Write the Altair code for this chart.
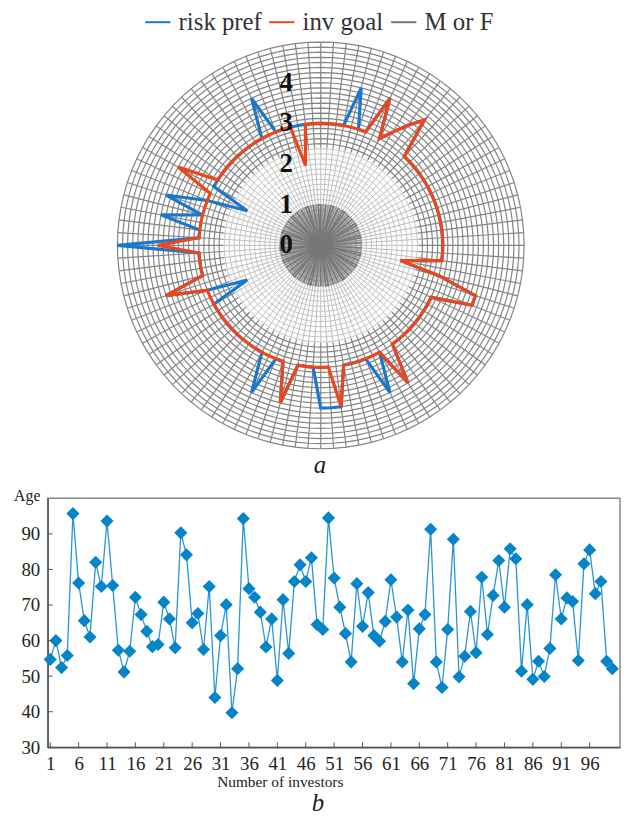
import altair as alt
import pandas as pd

FONT = "Liberation Serif"

# ---------------- data: radar (panel a) ----------------
series_names = ["risk pref", "inv goal", "M or F"]
series_colors = ["#1a78cc", "#ec461a", "#777777"]

risk_pref = [3, 3, 3, 3, 4, 3, 3, 4, 3, 3.3,
             3.65, 4, 3, 3, 3, 3, 3, 3, 3, 3,
             3, 3, 3, 3, 3, 3, 3, 3, 2, 3,
             4, 4, 3, 3, 3, 3, 3, 3, 3, 3,
             3, 4, 3, 4, 3, 3, 3, 3, 4, 4,
             4, 3, 3, 3, 4, 3, 3, 4, 3, 3,
             3, 3, 3, 3, 3, 3, 3, 3, 2, 3,
             4, 3, 3, 3, 3, 5, 3, 3, 4, 3,
             4, 3, 2, 3, 3, 3, 3, 3, 3, 3,
             3, 3, 3, 4, 3, 3, 3, 3, 3, 3]

inv_goal = [3, 3, 3, 3, 3, 3, 3, 4, 3, 3.3,
            3.65, 4, 3, 3, 3, 3, 3, 3, 3, 3,
            3, 3, 3, 3, 3, 3, 3, 3, 2, 3,
            4, 4, 3, 3, 3, 3, 3, 3, 3, 3,
            3, 4, 3, 3, 3, 3, 3, 3, 4, 3,
            3, 3, 3, 3, 4, 3, 3, 3, 3, 3,
            3, 3, 3, 3, 3, 3, 3, 3, 3, 3,
            4, 3, 3, 3, 3, 4, 3, 3, 3, 3,
            3, 3, 3, 4, 3, 3, 3, 3, 3, 3,
            3, 3, 3, 3, 3, 3, 3, 2, 3, 3]

m_or_f = [1, 0, 1, 0, 1, 1, 0, 1, 0, 1,
          1, 0, 1, 0, 1, 0, 1, 1, 0, 1,
          0, 1, 1, 0, 1, 0, 1, 0, 1, 1,
          0, 1, 0, 1, 1, 0, 1, 0, 1, 0,
          1, 1, 0, 1, 0, 1, 0, 1, 1, 0,
          1, 0, 1, 0, 1, 1, 0, 1, 0, 1,
          0, 1, 1, 0, 1, 0, 1, 0, 1, 1,
          0, 1, 0, 1, 1, 0, 1, 0, 1, 0,
          1, 1, 0, 1, 0, 1, 0, 1, 1, 0,
          1, 0, 1, 0, 1, 1, 0, 1, 0, 1]

radial_ticks = [0, 1, 2, 3, 4]
grid_rings = [k / 8 for k in range(1, 41)]
n_spokes = 100

# ---------------- data: ages (panel b) ----------------
ages = [54.7, 60.0, 52.4, 55.8, 95.7, 76.2, 65.6, 61.0, 82.0, 75.2,
        93.6, 75.5, 57.3, 51.2, 57.0, 72.2, 67.3, 62.6, 58.3, 58.9,
        70.8, 66.1, 58.0, 90.3, 84.1, 65.0, 67.6, 57.5, 75.2, 44.0,
        61.4, 70.1, 39.7, 52.1, 94.3, 74.6, 72.2, 68.0, 58.2, 66.1,
        48.8, 71.5, 56.4, 76.6, 81.3, 76.6, 83.3, 64.5, 63.1, 94.5,
        77.6, 69.4, 62.0, 54.0, 76.0, 64.0, 73.5, 61.4, 59.8, 65.4,
        77.1, 66.6, 54.0, 68.6, 47.9, 63.3, 67.3, 91.3, 54.0, 46.8,
        63.1, 88.5, 49.8, 55.6, 68.2, 56.6, 77.8, 61.7, 72.7, 82.5,
        69.4, 85.8, 83.0, 51.4, 70.1, 49.1, 54.2, 49.9, 57.8, 78.5,
        66.1, 72.0, 71.0, 54.4, 81.6, 85.5, 73.2, 76.6, 54.2, 52.1]
investors = list(range(1, len(ages) + 1))
x_tick_values = list(range(1, 100, 5))
y_tick_values = [30, 40, 50, 60, 70, 80, 90]

# ---------------- panel a: radar ----------------
W = 577
H1 = 445
K = 41.0       # px per radial unit
CX = 275.3     # centre offset from plot left (px)
CY = 239.0     # centre offset from plot top (px)
x_dom = [-CX / K, (W - CX) / K]
y_dom = [-(H1 - CY) / K, CY / K]

X = alt.X("x:Q", scale=alt.Scale(domain=x_dom, nice=False, zero=False), axis=None)
Y = alt.Y("y:Q", scale=alt.Scale(domain=y_dom, nice=False, zero=False), axis=None)

ang = "2*PI*datum.idx/%d" % n_spokes


def series_df(name, vals):
    rows = [{"series": name, "idx": i, "r": v} for i, v in enumerate(vals)]
    rows.append({"series": name, "idx": len(vals), "r": vals[0]})
    return pd.DataFrame(rows)


def ring_style(rv):
    if rv <= 1:
        return "#9a9a9a", 1.6
    if rv <= 2.4:
        return "#c6c6c6", 1.0
    return "#858585", 1.2


ring_rows = []
for rv in grid_rings:
    col, sw = ring_style(rv)
    for i in range(n_spokes + 1):
        ring_rows.append({"ring": rv, "idx": i, "r": rv, "stroke": col, "sw": sw})
rings_df = pd.DataFrame(ring_rows)

spoke_rows = []
for i in range(n_spokes):
    spoke_rows.append({"idx": i, "r0": 0, "r1": 1, "stroke": "#9a9a9a", "sw": 2.0})
    spoke_rows.append({"idx": i, "r0": 1, "r1": 2.4, "stroke": "#bdbdbd", "sw": 1.0})
    spoke_rows.append({"idx": i, "r0": 2.4, "r1": 5, "stroke": "#858585", "sw": 1.2})
spokes_df = pd.DataFrame(spoke_rows)

rings = alt.Chart(rings_df).mark_line().transform_calculate(
    x="datum.r*sin(%s)" % ang, y="datum.r*cos(%s)" % ang
).encode(x=X, y=Y, detail="ring:N", order="idx:Q",
         color=alt.Color("stroke:N", scale=None),
         strokeWidth=alt.StrokeWidth("sw:Q", scale=None))

spokes = alt.Chart(spokes_df).mark_rule().transform_calculate(
    x="datum.r0*sin(%s)" % ang, y="datum.r0*cos(%s)" % ang,
    x2="datum.r1*sin(%s)" % ang, y2="datum.r1*cos(%s)" % ang
).encode(x=X, y=Y, x2="x2:Q", y2="y2:Q",
         color=alt.Color("stroke:N", scale=None),
         strokeWidth=alt.StrokeWidth("sw:Q", scale=None))

color_enc = alt.Color(
    "series:N",
    scale=alt.Scale(domain=series_names, range=series_colors),
    legend=alt.Legend(
        title=None, orient="none", legendX=97, legendY=0, padding=0,
        direction="horizontal", columns=3, symbolType="stroke",
        symbolSize=650, symbolStrokeWidth=2, labelFont=FONT,
        labelFontSize=25, labelColor="#333333", labelOffset=7,
        columnPadding=3, labelLimit=200,
    ),
)


def series_layer(name, vals, width):
    return alt.Chart(series_df(name, vals)).mark_line(
        strokeWidth=width, strokeJoin="miter"
    ).transform_calculate(
        x="datum.r*sin(%s)" % ang, y="datum.r*cos(%s)" % ang
    ).encode(x=X, y=Y, order="idx:Q", color=color_enc)


mf_layer = series_layer("M or F", m_or_f, 1.5)
risk_layer = series_layer("risk pref", risk_pref, 3.2)
goal_layer = series_layer("inv goal", inv_goal, 3.2)

labels_df = pd.DataFrame({"r": radial_ticks, "lab": [str(t) for t in radial_ticks]})
labels = alt.Chart(labels_df).mark_text(
    font=FONT, fontSize=27, fontWeight="bold", color="#111111",
    baseline="middle", align="center"
).transform_calculate(x="-0.85", y="datum.r").encode(x=X, y=Y, text="lab:N")

radar = alt.layer(rings, spokes, mf_layer, risk_layer, goal_layer, labels).properties(
    width=W, height=H1,
    view=alt.ViewBackground(strokeWidth=0),
    title=alt.TitleParams("a", orient="bottom", font=FONT, fontSize=25,
                          fontStyle="italic", fontWeight="normal",
                          color="#222222", offset=2, dx=-14),
)

# ---------------- panel b: ages ----------------
H2 = 251
age_df = pd.DataFrame({"investor": investors, "age": ages})
xs = alt.Scale(domain=[0.55, 101.35], nice=False, zero=False)
ys = alt.Scale(domain=[30, 100], nice=False, zero=False)

x_axis = alt.Axis(values=x_tick_values, title="Number of investors", ticks=False,
                  labelPadding=7, labelFontSize=19, labelFont=FONT, labelColor="#222",
                  labelOverlap=False, labelFlush=False,
                  titleFont=FONT, titleFontSize=15.5, titleFontWeight="normal",
                  titleColor="#222", titlePadding=2, titleX=234, titleAlign="center",
                  grid=False, domainColor="#555", domainWidth=1.5)
y_axis = alt.Axis(values=y_tick_values, title="Age", ticks=False, labelPadding=8,
                  labelFontSize=19, labelFont=FONT, labelColor="#222",
                  labelOverlap=False,
                  titleFont=FONT, titleFontSize=16, titleFontWeight="normal",
                  titleColor="#222", titleAngle=0, titleAlign="center",
                  titleBaseline="alphabetic", titleX=-21, titleY=2, grid=False,
                  domainColor="#555", domainWidth=1.5)

X2 = alt.X("investor:Q", scale=xs, axis=x_axis)
Y2 = alt.Y("age:Q", scale=ys, axis=y_axis)

line = alt.Chart(age_df).mark_line(color="#2b95d8", strokeWidth=1.3).encode(x=X2, y=Y2)
pts = alt.Chart(age_df).mark_point(shape="diamond", filled=True, size=175,
                                   color="#0585c8", opacity=1).encode(x=X2, y=Y2)

ytick_df = pd.DataFrame({"age": y_tick_values})
xtick_df = pd.DataFrame({"investor": x_tick_values})
yticks = alt.Chart(ytick_df).mark_rule(color="#555", strokeWidth=1).encode(
    y=Y2, x=alt.value(0), x2=alt.value(5))
xticks = alt.Chart(xtick_df).mark_rule(color="#555", strokeWidth=1).encode(
    x=X2, y=alt.value(H2), y2=alt.value(H2 - 5))

ages_chart = alt.layer(line, pts, yticks, xticks).properties(
    width=W, height=H2,
    view=alt.ViewBackground(stroke="#888888", strokeWidth=1.5),
    title=alt.TitleParams("b", orient="bottom", font=FONT, fontSize=25,
                          fontStyle="italic", fontWeight="normal",
                          color="#222222", offset=1, dx=-16),
)

chart = alt.vconcat(radar, ages_chart, spacing=8).resolve_scale(
    color="independent"
).properties(
    padding={"left": 4, "top": -3, "right": 0, "bottom": 0}
).configure(font=FONT).configure_view(strokeWidth=0).configure_axisX(
    labelOverlap=False
)

chart.save("out.html", embed_options={"renderer": "svg", "actions": False})
